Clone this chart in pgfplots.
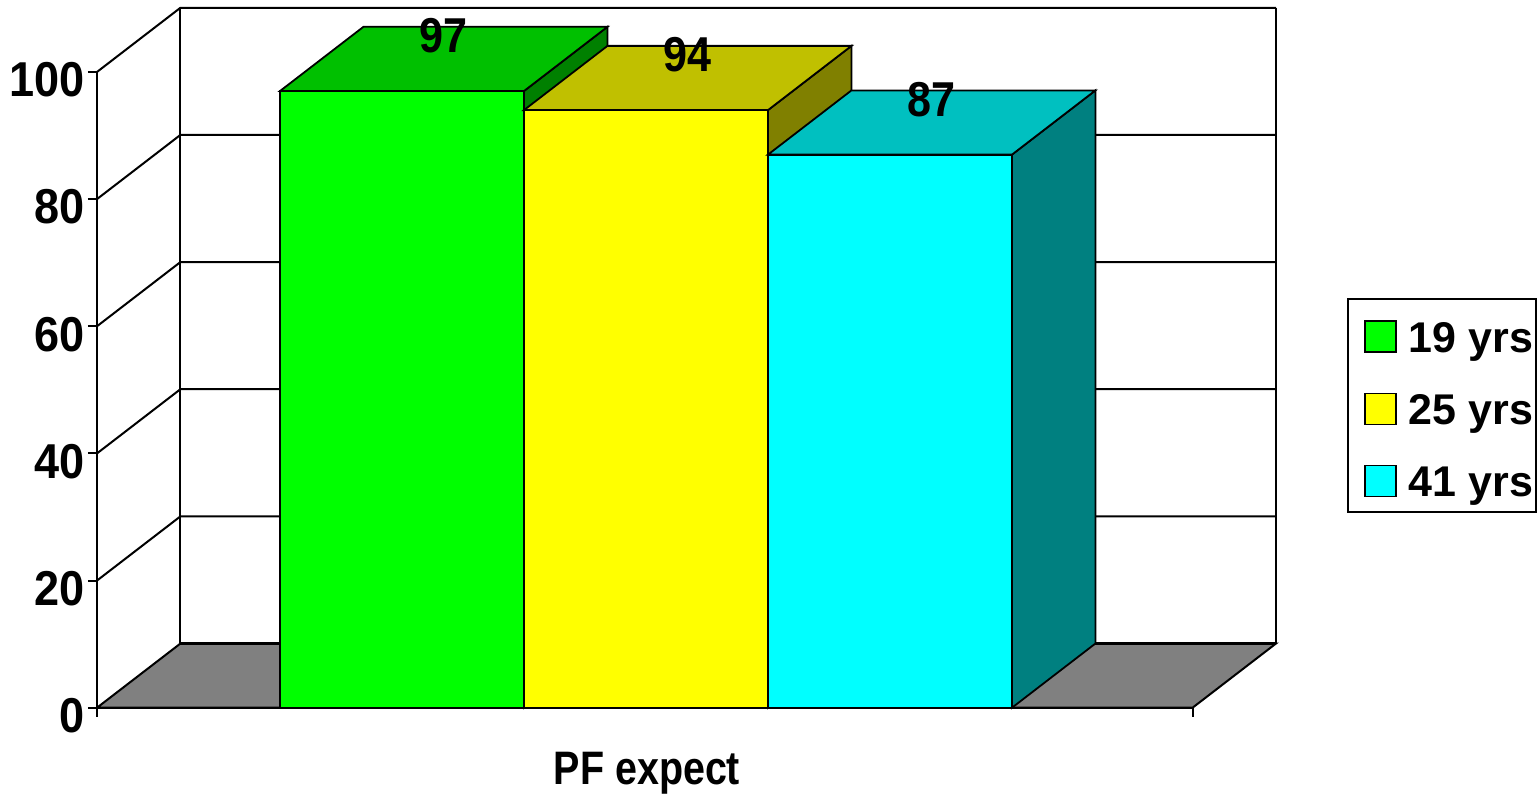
\documentclass[border=0pt]{standalone}
\usepackage{pgfplots}
\usepackage{pgfplotstable}
\pgfplotsset{compat=1.18}
\usepackage{fontspec}
\setmainfont{Liberation Sans}
\usepackage{graphicx}

% front / top / side shades of the three columns, and the floor
\definecolor{gfront}{HTML}{00FF00}
\definecolor{gtop}{HTML}{00C000}
\definecolor{gside}{HTML}{008000}
\definecolor{yfront}{HTML}{FFFF00}
\definecolor{ytop}{HTML}{C0C000}
\definecolor{yside}{HTML}{808000}
\definecolor{cfront}{HTML}{00FFFF}
\definecolor{ctop}{HTML}{00C0C0}
\definecolor{cside}{HTML}{008080}
\definecolor{floorgray}{HTML}{808080}

\tikzset{
  bar edge/.style={draw=black, line width=0.9pt},
  value label/.style={anchor=base, inner sep=0pt, font=\bfseries\fontsize{24.5}{24.5}\selectfont},
}

\pgfplotstableread{
group value front top side
19 97 gfront gtop gside
25 94 yfront ytop yside
41 87 cfront ctop cside
}\bardata

% depth of the 3-D box (x in column widths, y in value units)
\def\depx{0.342}
\def\depy{10.1}
\def\xend{4.49}

\newcommand\drawbar[1]{%
  \pgfplotstablegetelem{#1}{value}\of\bardata \let\barval\pgfplotsretval
  \pgfplotstablegetelem{#1}{front}\of\bardata \let\colF\pgfplotsretval
  \pgfplotstablegetelem{#1}{top}\of\bardata \let\colT\pgfplotsretval
  \pgfplotstablegetelem{#1}{side}\of\bardata \let\colS\pgfplotsretval
  \pgfmathsetmacro\xl{0.75+#1}%
  \pgfmathsetmacro\xr{\xl+1}%
  \pgfmathsetmacro\xlb{\xl+\depx}%
  \pgfmathsetmacro\xrb{\xr+\depx}%
  \pgfmathsetmacro\vb{\barval+\depy}%
  \pgfmathsetmacro\xc{\xl+0.5+\depx/2}%
  \pgfmathsetmacro\vl{\barval+6}%
  \edef\doit{%
    \noexpand\addplot[forget plot, bar edge, fill=\colS] coordinates {(\xr,0) (\xrb,\depy) (\xrb,\vb) (\xr,\barval)} -- cycle;
    \noexpand\addplot[forget plot, bar edge, fill=\colT] coordinates {(\xl,\barval) (\xr,\barval) (\xrb,\vb) (\xlb,\vb)} -- cycle;
    \noexpand\addplot[bar edge, fill=\colF] coordinates {(\xl,0) (\xr,0) (\xr,\barval) (\xl,\barval)} -- cycle;
    \noexpand\node[value label] at (axis cs:\xc,\vl) {\noexpand\scalebox{0.88}[1]{\barval}};
  }\doit
}

\begin{document}
\begin{tikzpicture}
\begin{axis}[
  scale only axis, width=548pt, height=318pt,
  xmin=0, xmax=\xend, ymin=0, ymax=100,
  clip=false,
  axis x line*=bottom, axis y line*=left,
  axis line style={line width=1.2pt},
  ytick={0,20,...,100}, xtick={0,\xend}, xticklabels={},
  tick align=outside, major tick length=4.5pt,
  tick style={black, line width=1pt},
  /pgf/number format/assume math mode=true,
  yticklabel={\scalebox{0.92}[1]{\pgfmathprintnumber{\tick}}},
  yticklabel style={font=\bfseries\fontsize{24.5}{24.5}\selectfont, anchor=east, inner sep=0pt, xshift=-1.5pt, yshift=-4pt},
  xlabel={\scalebox{0.84}[1]{PF expect}},
  xlabel style={at={(axis description cs:0.502,0)}, anchor=base, yshift=-38.5pt, inner sep=0pt,
    font=\bfseries\fontsize{23.5}{23.5}\selectfont},
  legend image code/.code={%
    \path (-6.5pt,11.5pt);
    \draw[#1, draw=black, line width=0.8pt] (0pt,-7.25pt) rectangle (15.5pt,8.25pt);},
  legend style={at={(axis cs:5.123,64.47)}, anchor=north west, draw=black, line width=1pt,
    font=\bfseries\fontsize{21.5}{21.5}\selectfont, inner xsep=1.5pt, inner ysep=7.5pt,
    row sep=16.5pt, nodes={inner sep=0pt, text depth=0pt},
    /tikz/every odd column/.append style={column sep=6pt}},
  legend cell align=left,
]
% page extent
\path (axis cs:-0.3975,-13.836) rectangle (axis cs:5.914,111.32);

% floor
\addplot[forget plot, fill=floorgray, draw=black, line width=1pt]
  coordinates {(0,0) (4.49,0) (4.832,10.1) (0.342,10.1)} -- cycle;
\addplot[forget plot, black, line width=1.5pt] coordinates {(0.342,10.1) (4.832,10.1)};
% side wall and back wall grid
\addplot[forget plot, black, line width=1pt] coordinates {(0,20) (0.342,30.1) (4.832,30.1)};
\addplot[forget plot, black, line width=1pt] coordinates {(0,40) (0.342,50.1) (4.832,50.1)};
\addplot[forget plot, black, line width=1pt] coordinates {(0,60) (0.342,70.1) (4.832,70.1)};
\addplot[forget plot, black, line width=1pt] coordinates {(0,80) (0.342,90.1) (4.832,90.1)};
\addplot[forget plot, black, line width=1pt] coordinates {(0,100) (0.342,110.1) (4.832,110.1)};
\addplot[forget plot, black, line width=1pt] coordinates {(0.342,10.1) (0.342,110.1)};
\addplot[forget plot, black, line width=1pt] coordinates {(4.832,10.1) (4.832,110.1)};

% columns, left to right
\drawbar{0}
\drawbar{1}
\drawbar{2}

\legend{19 yrs, 25 yrs, 41 yrs}
\end{axis}
\end{tikzpicture}
\end{document}
